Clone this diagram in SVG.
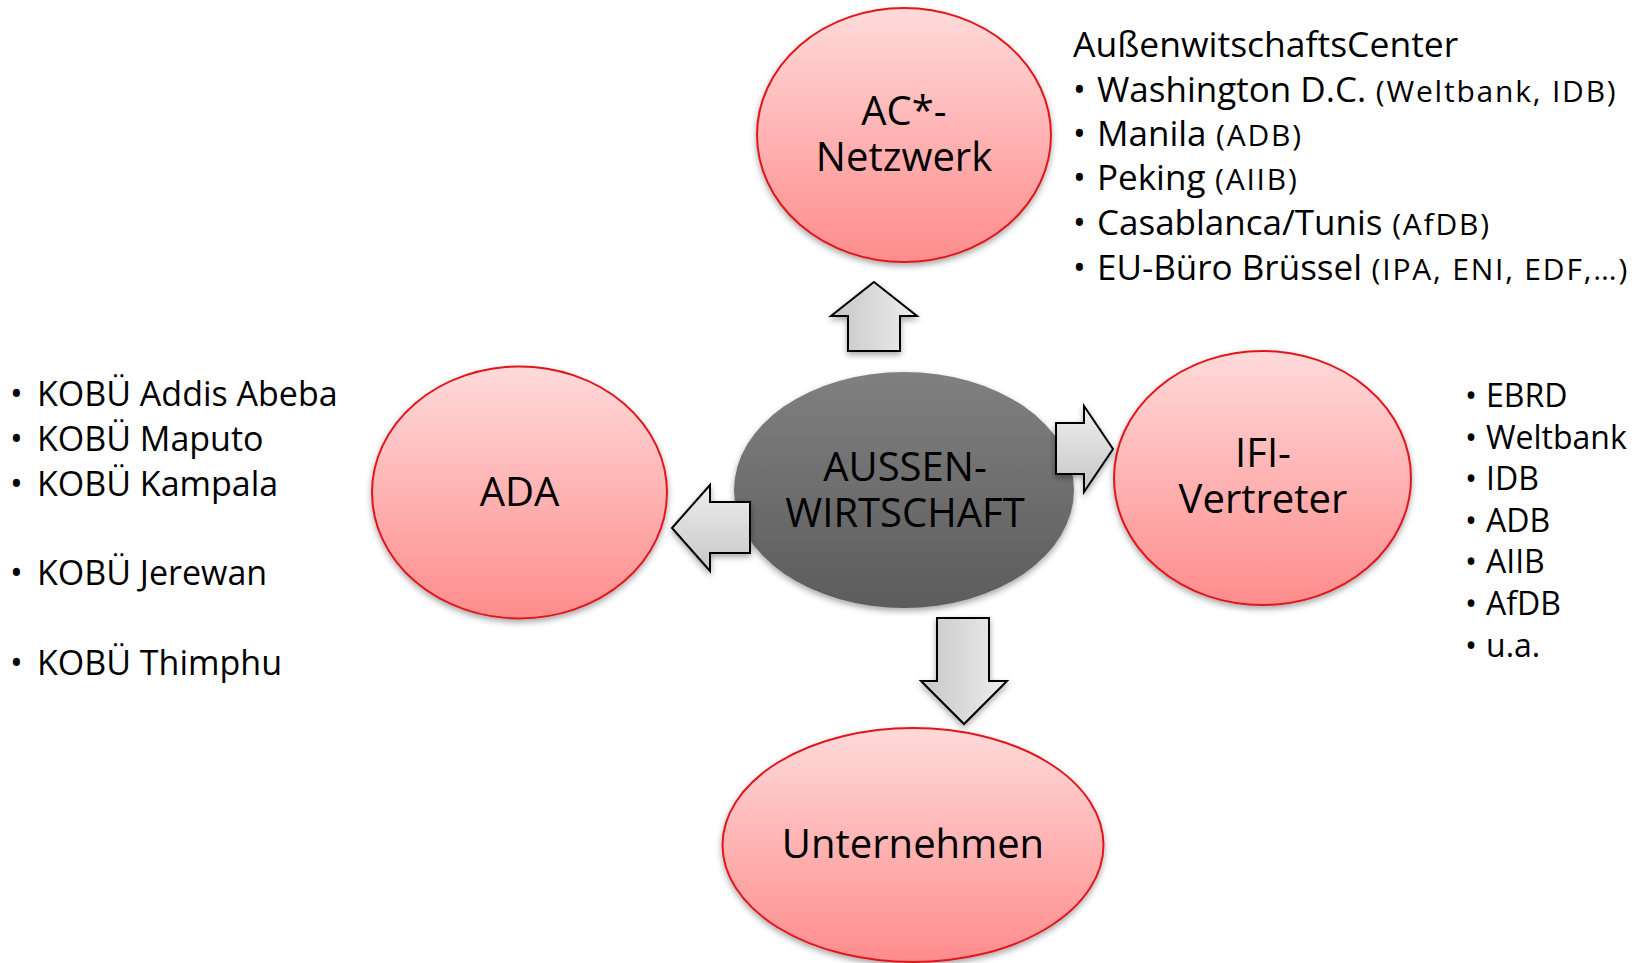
<svg xmlns="http://www.w3.org/2000/svg" width="1643" height="963" viewBox="0 0 1643 963">
<defs>
<linearGradient id="pink" x1="0" y1="0" x2="0" y2="1">
<stop offset="0" stop-color="#FFDADA"/>
<stop offset="1" stop-color="#FF8C8C"/>
</linearGradient>
<linearGradient id="grey" x1="0" y1="0" x2="0" y2="1">
<stop offset="0" stop-color="#808080"/>
<stop offset="1" stop-color="#5C5C5C"/>
</linearGradient>
<linearGradient id="arrowH" x1="0" y1="0" x2="1" y2="0">
<stop offset="0" stop-color="#C6C6C6"/>
<stop offset="1" stop-color="#EEEEEE"/>
</linearGradient>
<linearGradient id="arrowV" x1="0" y1="0" x2="0" y2="1">
<stop offset="0" stop-color="#EEEEEE"/>
<stop offset="1" stop-color="#C6C6C6"/>
</linearGradient>
<filter id="shadow" x="-10%" y="-10%" width="120%" height="130%">
<feDropShadow dx="0" dy="3" stdDeviation="3" flood-color="#000" flood-opacity="0.35"/>
</filter>
</defs>
<style>
.node{fill:url(#pink);stroke:#E0171D;stroke-width:2;filter:url(#shadow)}
.center{fill:url(#grey);filter:url(#shadow)}
.label{font-family:"Open Sans","Liberation Sans",sans-serif;font-size:40px;fill:#000;text-anchor:middle}
.list{font-family:"Open Sans","Liberation Sans",sans-serif;font-size:34px;fill:#000}
.main{font-size:35px}
.head{font-size:35.5px}
.small{font-size:30px;letter-spacing:1.8px}
.ifi{font-family:"Open Sans","Liberation Sans",sans-serif;font-size:32px;fill:#000}
.arrow{stroke:#000;stroke-width:2;stroke-linejoin:miter;filter:url(#shadow)}
</style>
<rect width="1643" height="963" fill="#FFFFFF"/>

<g id="node-ac">
<ellipse class="node" cx="904" cy="135" rx="147" ry="127"/>
<text class="label" x="904" y="125">AC*-</text>
<text class="label" x="904" y="171">Netzwerk</text>
</g>

<g id="node-ada">
<ellipse class="node" cx="519.5" cy="492.5" rx="147.5" ry="126"/>
<text class="label" x="519.5" y="506">ADA</text>
</g>

<g id="node-ifi">
<ellipse class="node" cx="1262.5" cy="478" rx="148.5" ry="127"/>
<text class="label" x="1263" y="467">IFI-</text>
<text class="label" x="1263" y="513">Vertreter</text>
</g>

<g id="node-unternehmen">
<ellipse class="node" cx="913" cy="845" rx="190.5" ry="117"/>
<text class="label" x="913" y="858">Unternehmen</text>
</g>

<g id="node-aussenwirtschaft">
<ellipse class="center" cx="904" cy="490" rx="170" ry="118"/>
<text class="label" x="905" y="481">AUSSEN-</text>
<text class="label" x="905" y="527">WIRTSCHAFT</text>
</g>

<g id="connectors">
<polygon class="arrow" fill="url(#arrowH)" points="874,282 917,316 900,316 900,351 848,351 848,316 831,316"/>
<polygon class="arrow" fill="url(#arrowV)" points="1056,423 1084,423 1084,406 1113,449 1084,492 1084,474 1056,474"/>
<polygon class="arrow" fill="url(#arrowH)" points="937,618 989,618 989,681 1007,681 964,724 921,681 937,681"/>
<polygon class="arrow" fill="url(#arrowV)" points="672,528 710,485 710,502 750,502 750,553 710,553 710,571"/>
</g>

<g id="list-ac">
<text class="list head" x="1073" y="57">AußenwitschaftsCenter</text>
<text class="list" x="1073" y="102">•</text>
<text class="list main" x="1097" y="102">Washington D.C.<tspan class="small"> (Weltbank, IDB)</tspan></text>
<text class="list" x="1073" y="146">•</text>
<text class="list main" x="1097" y="146">Manila<tspan class="small"> (ADB)</tspan></text>
<text class="list" x="1073" y="190">•</text>
<text class="list main" x="1097" y="190">Peking<tspan class="small"> (AIIB)</tspan></text>
<text class="list" x="1073" y="235">•</text>
<text class="list main" x="1097" y="235">Casablanca/Tunis<tspan class="small"> (AfDB)</tspan></text>
<text class="list" x="1073" y="280">•</text>
<text class="list main" x="1097" y="280">EU-Büro Brüssel<tspan class="small"> (IPA, ENI, EDF,…)</tspan></text>
</g>

<g id="list-ada">
<text class="list" x="10" y="406">•</text>
<text class="list" x="37" y="406">KOBÜ Addis Abeba</text>
<text class="list" x="10" y="451">•</text>
<text class="list" x="37" y="451">KOBÜ Maputo</text>
<text class="list" x="10" y="496">•</text>
<text class="list" x="37" y="496">KOBÜ Kampala</text>
<text class="list" x="10" y="585">•</text>
<text class="list" x="37" y="585">KOBÜ Jerewan</text>
<text class="list" x="10" y="675">•</text>
<text class="list" x="37" y="675">KOBÜ Thimphu</text>
</g>

<g id="list-ifi">
<text class="ifi" x="1465" y="407">•</text>
<text class="ifi" x="1486" y="407">EBRD</text>
<text class="ifi" x="1465" y="449">•</text>
<text class="ifi" x="1486" y="449">Weltbank</text>
<text class="ifi" x="1465" y="490">•</text>
<text class="ifi" x="1486" y="490">IDB</text>
<text class="ifi" x="1465" y="532">•</text>
<text class="ifi" x="1486" y="532">ADB</text>
<text class="ifi" x="1465" y="573">•</text>
<text class="ifi" x="1486" y="573">AIIB</text>
<text class="ifi" x="1465" y="615">•</text>
<text class="ifi" x="1486" y="615">AfDB</text>
<text class="ifi" x="1465" y="657">•</text>
<text class="ifi" x="1486" y="657">u.a.</text>
</g>
</svg>
